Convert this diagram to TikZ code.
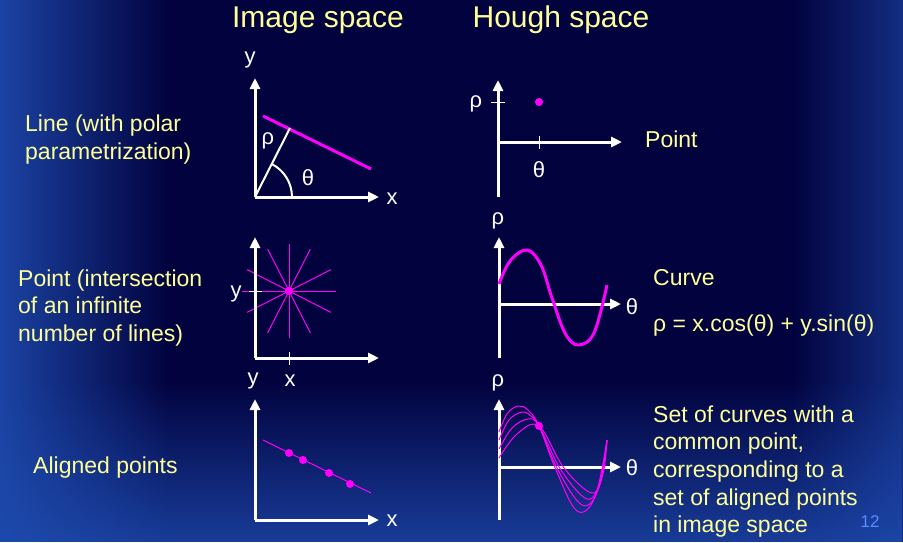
\documentclass[tikz,border=0pt]{standalone}
\usepackage{fontspec}
\setmainfont{Liberation Sans}
\usetikzlibrary{arrows.meta, fadings, positioning}
\definecolor{bgnavy}{RGB}{2,2,62}
\definecolor{edgeblue}{RGB}{30,75,175}
\definecolor{paleyellow}{RGB}{255,255,153}
\definecolor{pagenum}{RGB}{90,140,255}
\definecolor{hmagenta}{RGB}{255,0,255}
\tikzfading[name=fadeR, left color=transparent!0, right color=transparent!100]
\tikzfading[name=fadeL, left color=transparent!100, right color=transparent!0]
\tikzfading[name=fadeUp, top color=transparent!100, bottom color=transparent!0]
\begin{document}
\begin{tikzpicture}[x=1pt, y=-1pt,
    axis/.style={white, line width=3pt, -{Triangle[length=11pt,width=10pt]}},
    tick/.style={white, line width=1pt},
    lbl/.style={text=paleyellow, font=\fontsize{23}{27.7}\selectfont, align=left, anchor=west, inner sep=0pt},
    head/.style={text=paleyellow, font=\fontsize{30}{34}\selectfont, inner sep=0pt},
    axlbl/.style={text=white, font=\fontsize{22}{25}\selectfont, inner sep=0pt},
    thick line/.style={hmagenta, line width=3pt},
    thin line/.style={hmagenta, line width=1pt},
    dot/.style={circle, fill=hmagenta, minimum size=8pt, inner sep=0pt}]
    % background
    \useasboundingbox (0,0) rectangle (903,542);
    \fill[bgnavy] (0,0) rectangle (903,542);
    \fill[edgeblue, path fading=fadeR, opacity=0.9] (0,0) rectangle (170,542);
    \fill[edgeblue, path fading=fadeL, opacity=0.6] (790,0) rectangle (903,542);
    \fill[edgeblue, path fading=fadeUp, opacity=0.8] (0,380) rectangle (903,542);

    % headings
    \node[head] (imgsp) at (318,20) {Image space};
    \node[head] (hghsp) at (561,20) {Hough space};

    % row labels
    \node[lbl] (lineLbl) at (25,139.5) {Line (with polar\\parametrization)};
    \node[lbl] (pointLbl) at (18,308) {Point (intersection\\of an infinite\\number of lines)};
    \node[lbl] (alignLbl) at (33,468) {Aligned points};

    % image space: line
    \coordinate (o1) at (255,197);
    \coordinate (foot) at (290,128);
    \draw[axis] (o1) -- (255,78);
    \draw[axis] (o1) -- (379,197);
    \draw[thick line] (263,116) -- (371,169);
    \draw[white, line width=2pt] (o1) -- (foot);
    \draw[white, line width=2pt] (292,197) arc[start angle=0, end angle=-63, radius=37];
    \node[axlbl] (y1) at (250,60) {y};
    \node[axlbl] (x1) at (392,199) {x};
    \node[axlbl] (rho1) at (268,141) {ρ};
    \node[axlbl] (th1) at (308,178) {θ};

    % hough space: point
    \coordinate (o2) at (498,142);
    \draw[axis] (498,197) -- (498,80);
    \draw[axis] (o2) -- (622,142);
    \draw[tick] (491,102) -- (505,102);
    \draw[tick] (539,136) -- (539,149);
    \node[dot] (pk) at (539,102) {};
    \node[axlbl] (rho2) at (476,104) {ρ};
    \node[axlbl] (th2) at (539,170) {θ};
    \node[lbl] (ptLbl) at (645,139) {Point};

    % image space: point
    \coordinate (o3) at (255,358);
    \coordinate (pc) at (289,291);
    \foreach \a in {0,27,63,90,117,153}
        \draw[thin line] (pc) ++(\a:47) -- ++(\a+180:94);
    \draw[axis] (o3) -- (255,237);
    \draw[axis] (o3) -- (379,358);
    \draw[tick] (249,291) -- (262,291);
    \draw[tick] (289,352) -- (289,365);
    \node[dot] (pcdot) at (pc) {};
    \node[axlbl] (y3) at (236,294) {y};
    \node[axlbl] (y5) at (253,381) {y};
    \node[axlbl] (x3) at (290,381) {x};

    % hough space: curve
    \draw[axis] (499,358) -- (499,237);
    \draw[axis] (499,304) -- (621,304);
    \draw[thick line] plot[smooth, tension=0.6] coordinates
        {(499,284) (510,261) (527,250) (541,265) (552,298) (565,333) (578,345) (594,333) (607,285)};
    \node[axlbl] (rho4) at (498,221) {ρ};
    \node[axlbl] (th4) at (632,307) {θ};
    \node[lbl] (crvLbl) at (653,278) {Curve};
    \node[lbl] (eqLbl) at (653,326) {ρ = x.cos(θ) + y.sin(θ)};

    % image space: aligned points
    \coordinate (o5) at (255,520);
    \draw[axis] (o5) -- (255,399);
    \draw[axis] (o5) -- (379,520);
    \draw[thin line] (263,440) -- (371,493);
    \foreach \px/\py in {289/453, 303/460, 329/473, 350/484}
        \node[dot] at (\px,\py) {};
    \node[axlbl] (x5) at (392,521) {x};

    % hough space: set of curves
    \draw[axis] (499,520) -- (499,399);
    \draw[axis] (499,467) -- (621,467);
    \draw[thin line] plot[smooth, tension=0.6] coordinates
        {(499,432) (507,414) (518,406) (528,410) (539,426) (556,470) (577,511) (595,497) (607,440)};
    \draw[thin line] plot[smooth, tension=0.6] coordinates
        {(499,440) (509,420) (522,412) (531,416) (539,426) (558,470) (582,505) (598,490) (607,440)};
    \draw[thin line] plot[smooth, tension=0.6] coordinates
        {(499,449) (512,428) (528,419) (539,426) (561,470) (587,499) (600,482) (607,440)};
    \draw[thin line] plot[smooth, tension=0.6] coordinates
        {(499,458) (517,434) (539,426) (564,468) (592,493) (603,474) (607,440)};
    \node[dot] (cp) at (539,426) {};
    \node[axlbl] (rho6) at (498,383) {ρ};
    \node[axlbl] (th6) at (632,468) {θ};
    \node[lbl] (setLbl) at (653,471.5) {Set of curves with a\\common point,\\corresponding to a\\set of aligned points\\in image space};

    \node[text=pagenum, font=\fontsize{17}{20}\selectfont, inner sep=0pt] (pgno) at (870,522) {12};
\end{tikzpicture}
\end{document}
